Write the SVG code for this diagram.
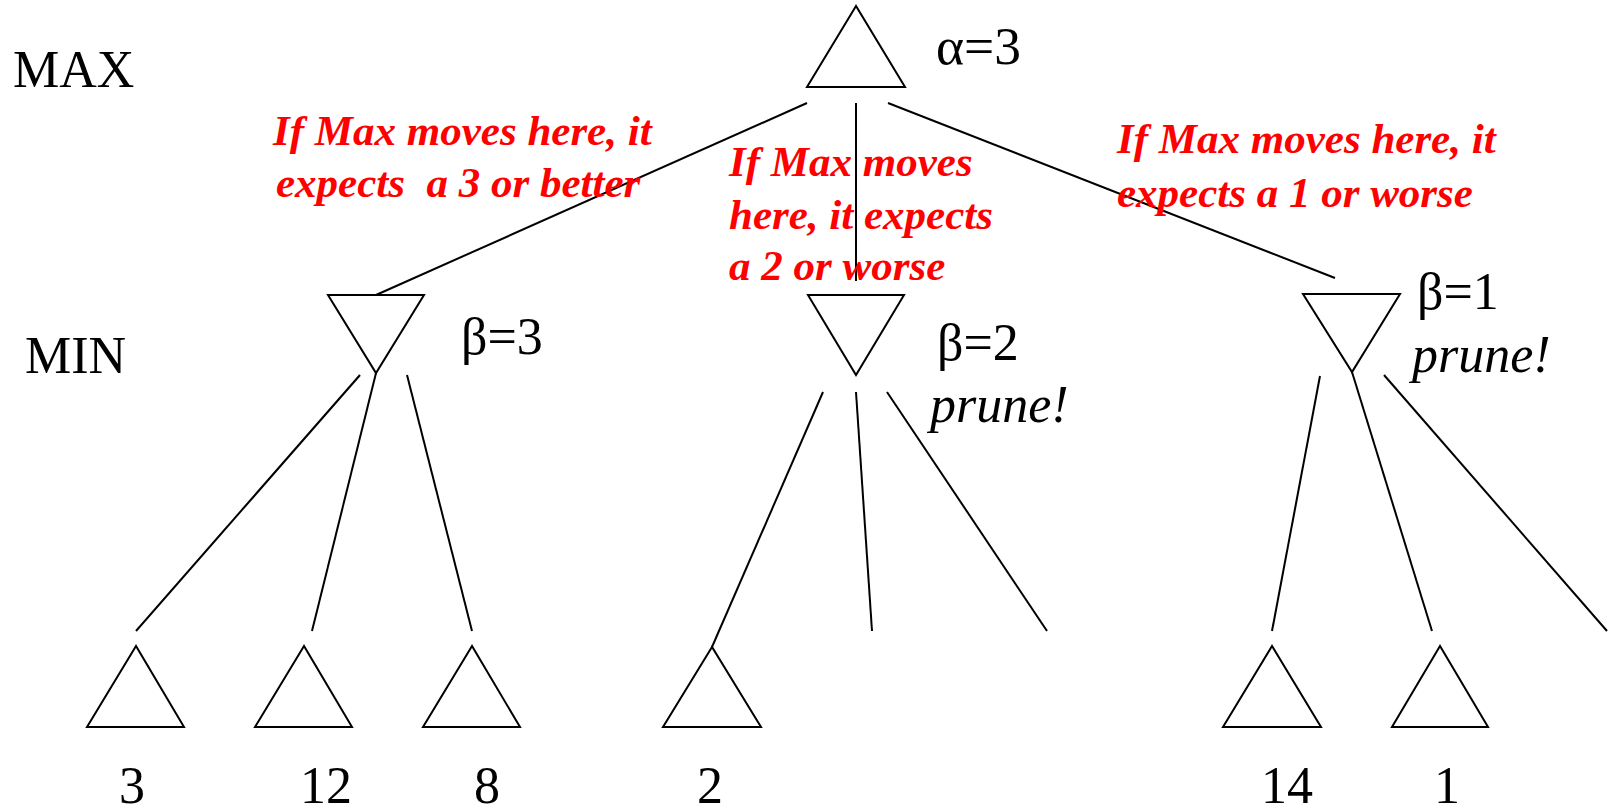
<svg xmlns="http://www.w3.org/2000/svg" width="1608" height="811" viewBox="0 0 1608 811">
<style>
.tri{fill:none;stroke:#000;stroke-width:2;stroke-linejoin:miter}
.edge{stroke:#000;stroke-width:2;fill:none}
.lbl{font-family:"Liberation Serif","Times New Roman",serif;font-size:52px;fill:#000}
.it{font-style:italic}
.note{font-family:"Liberation Serif","Times New Roman",serif;font-size:43px;font-weight:bold;font-style:italic;fill:#ff0000}
.num{text-anchor:middle}
</style>
<rect width="1608" height="811" fill="#fff"/>
<g id="levels">
<text class="lbl" x="13" y="87">MAX</text>
<text class="lbl" x="25" y="373">MIN</text>
</g>
<g id="connectors">
<line class="edge" x1="807" y1="103" x2="376" y2="295"/>
<line class="edge" x1="856" y1="103" x2="856" y2="281"/>
<line class="edge" x1="888" y1="103" x2="1335" y2="278"/>
<line class="edge" x1="360" y1="375" x2="136" y2="631"/>
<line class="edge" x1="376" y1="373" x2="312" y2="631"/>
<line class="edge" x1="407" y1="375" x2="472" y2="631"/>
<line class="edge" x1="823" y1="392" x2="712" y2="647"/>
<line class="edge" x1="856" y1="392" x2="872" y2="631"/>
<line class="edge" x1="887" y1="392" x2="1047" y2="631"/>
<line class="edge" x1="1320" y1="376" x2="1272" y2="631"/>
<line class="edge" x1="1352" y1="372" x2="1432" y2="631"/>
<line class="edge" x1="1384" y1="375" x2="1607" y2="631"/>
</g>
<g id="root">
<polygon class="tri" points="856,6 807,87 905,87"/>
<text class="lbl" x="936" y="64" textLength="85" lengthAdjust="spacingAndGlyphs">α=3</text>
</g>
<g id="min-left">
<polygon class="tri" points="328,295 424,295 376,373"/>
<text class="lbl" x="461" y="354">β=3</text>
</g>
<g id="min-mid">
<polygon class="tri" points="808,295 904,295 856,375"/>
<text class="lbl" x="937" y="360">β=2</text>
<text class="lbl it" x="930" y="422">prune!</text>
</g>
<g id="min-right">
<polygon class="tri" points="1303,294 1400,294 1352,372"/>
<text class="lbl" x="1417" y="309">β=1</text>
<text class="lbl it" x="1412" y="372">prune!</text>
</g>
<g id="leaf-3">
<polygon class="tri" points="136,646 87,727 184,727"/>
<text class="lbl num" x="132" y="803">3</text>
</g>
<g id="leaf-12">
<polygon class="tri" points="304,646 255,727 352,727"/>
<text class="lbl num" x="326" y="803">12</text>
</g>
<g id="leaf-8">
<polygon class="tri" points="472,646 423,727 520,727"/>
<text class="lbl num" x="487" y="803">8</text>
</g>
<g id="leaf-2">
<polygon class="tri" points="712,647 663,727 761,727"/>
<text class="lbl num" x="710" y="803">2</text>
</g>
<g id="leaf-14">
<polygon class="tri" points="1272,646 1223,727 1321,727"/>
<text class="lbl num" x="1287" y="803">14</text>
</g>
<g id="leaf-1">
<polygon class="tri" points="1440,646 1392,727 1488,727"/>
<text class="lbl num" x="1447" y="803">1</text>
</g>
<g id="note-left">
<text class="note" x="273" y="145">If Max moves here, it</text>
<text class="note" x="276" y="197" xml:space="preserve">expects  a 3 or better</text>
</g>
<g id="note-mid">
<text class="note" x="729" y="176">If Max moves</text>
<text class="note" x="729" y="229">here, it expects</text>
<text class="note" x="729" y="280">a 2 or worse</text>
</g>
<g id="note-right">
<text class="note" x="1117" y="153">If Max moves here, it</text>
<text class="note" x="1117" y="207">expects a 1 or worse</text>
</g>
</svg>
